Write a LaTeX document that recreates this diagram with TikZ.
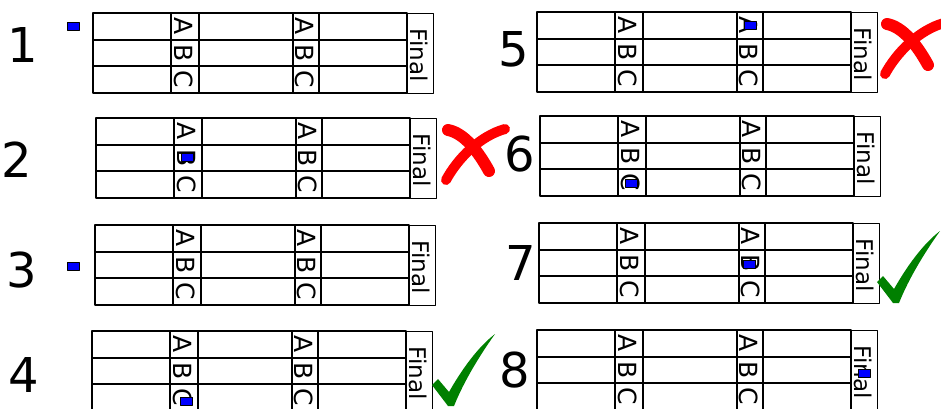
\documentclass[tikz,border=0pt]{standalone}
\usepackage{fontspec}
\setmainfont{DejaVu Sans}
\begin{document}
\begin{tikzpicture}[x=1pt, y=-1pt, line cap=round, line join=round]

    \colorlet{myblue}{blue}
    \colorlet{myred}{red}
    \colorlet{mygreen}{green!50!black}

    \useasboundingbox (0,0) rectangle (941,408);

    \tikzset{
      grid/.style={black, line width=1.9pt, line cap=rect},
      finalbox/.style={black, line width=0.9pt},
      letter/.style={rotate=-90, inner sep=0pt, font=\fontsize{25}{25}\selectfont},
      finaltext/.style={rotate=-90, inner sep=0pt, font=\fontsize{23}{23}\selectfont},
      number/.style={inner sep=0pt, font=\fontsize{48}{48}\selectfont},
      gaze/.style={draw=black, fill=myblue, line width=0.5pt,
        minimum width=12pt, minimum height=8pt, inner sep=0pt},
      brush/.style={myred, line cap=round}
    }

    % the eight answer sheets
    \foreach \i/\x/\y in {1/93/13, 2/96/118, 3/95/225, 4/92/331,
                          5/537/12, 6/540/116, 7/539/223, 8/537/330} {
      \begin{scope}[shift={(\x,\y)}]
        \draw[grid] (0,0) rectangle (314,80);
        \draw[grid] (0,26.7) -- (314,26.7) (0,53.3) -- (314,53.3);
        \draw[grid] (78,0) -- (78,80) (106,0) -- (106,80)
                    (200,0) -- (200,80) (226,0) -- (226,80);
        \draw[finalbox] (314,0) rectangle (340,80);
        \foreach \c/\cx in {1/91, 2/212} {
          \node[letter] (A\i-\c) at (\cx,13.3) {A};
          \node[letter] (B\i-\c) at (\cx,40) {B};
          \node[letter] (C\i-\c) at (\cx,66.7) {C};
        }
        \node[finaltext] (fin\i) at (326,42) {Final};
      \end{scope}
    }

    \node[number] (num1) at (22.5,44.5) {1};
    \node[number] (num2) at (16.5,159.5) {2};
    \node[number] (num3) at (21.5,270.5) {3};
    \node[number] (num4) at (23.5,374.5) {4};
    \node[number] (num5) at (513.5,49.5) {5};
    \node[number] (num6) at (519.5,154.5) {6};
    \node[number] (num7) at (521,262.5) {7};
    \node[number] (num8) at (515,370.5) {8};

    \node[gaze] (gaze1) at (73,26) {};
    \node[gaze] (gaze2) at (187.5,157.5) {};
    \node[gaze] (gaze3) at (73,266) {};
    \node[gaze] (gaze4) at (186.5,401) {};
    \node[gaze] (gaze5) at (750,25) {};
    \node[gaze] (gaze6) at (631,183) {};
    \node[gaze] (gaze7) at (749.5,264) {};
    \node[gaze] (gaze8) at (864,373.5) {};

    % wrong answers
    \foreach \x/\y in {438/106, 877/0} {
      \begin{scope}[shift={(\x,\y)}]
        \draw[brush, line width=12pt] (10,24) .. controls (26,27) and (40,45) .. (51,65);
        \draw[brush, line width=10pt] (8,74) .. controls (20,52) and (42,30) .. (67,23);
      \end{scope}
    }

    % right answers
    \foreach \x/\y in {450/405, 895/302} {
      \begin{scope}[shift={(\x,\y)}]
        \fill[mygreen] (-18,-20) -- (-12,-26) -- (-1,-13)
          .. controls (12,-36) and (28,-58) .. (45,-71)
          .. controls (30,-50) and (14,-24) .. (4,1)
          -- (-2,1) -- cycle;
      \end{scope}
    }

\end{tikzpicture}
\end{document}
